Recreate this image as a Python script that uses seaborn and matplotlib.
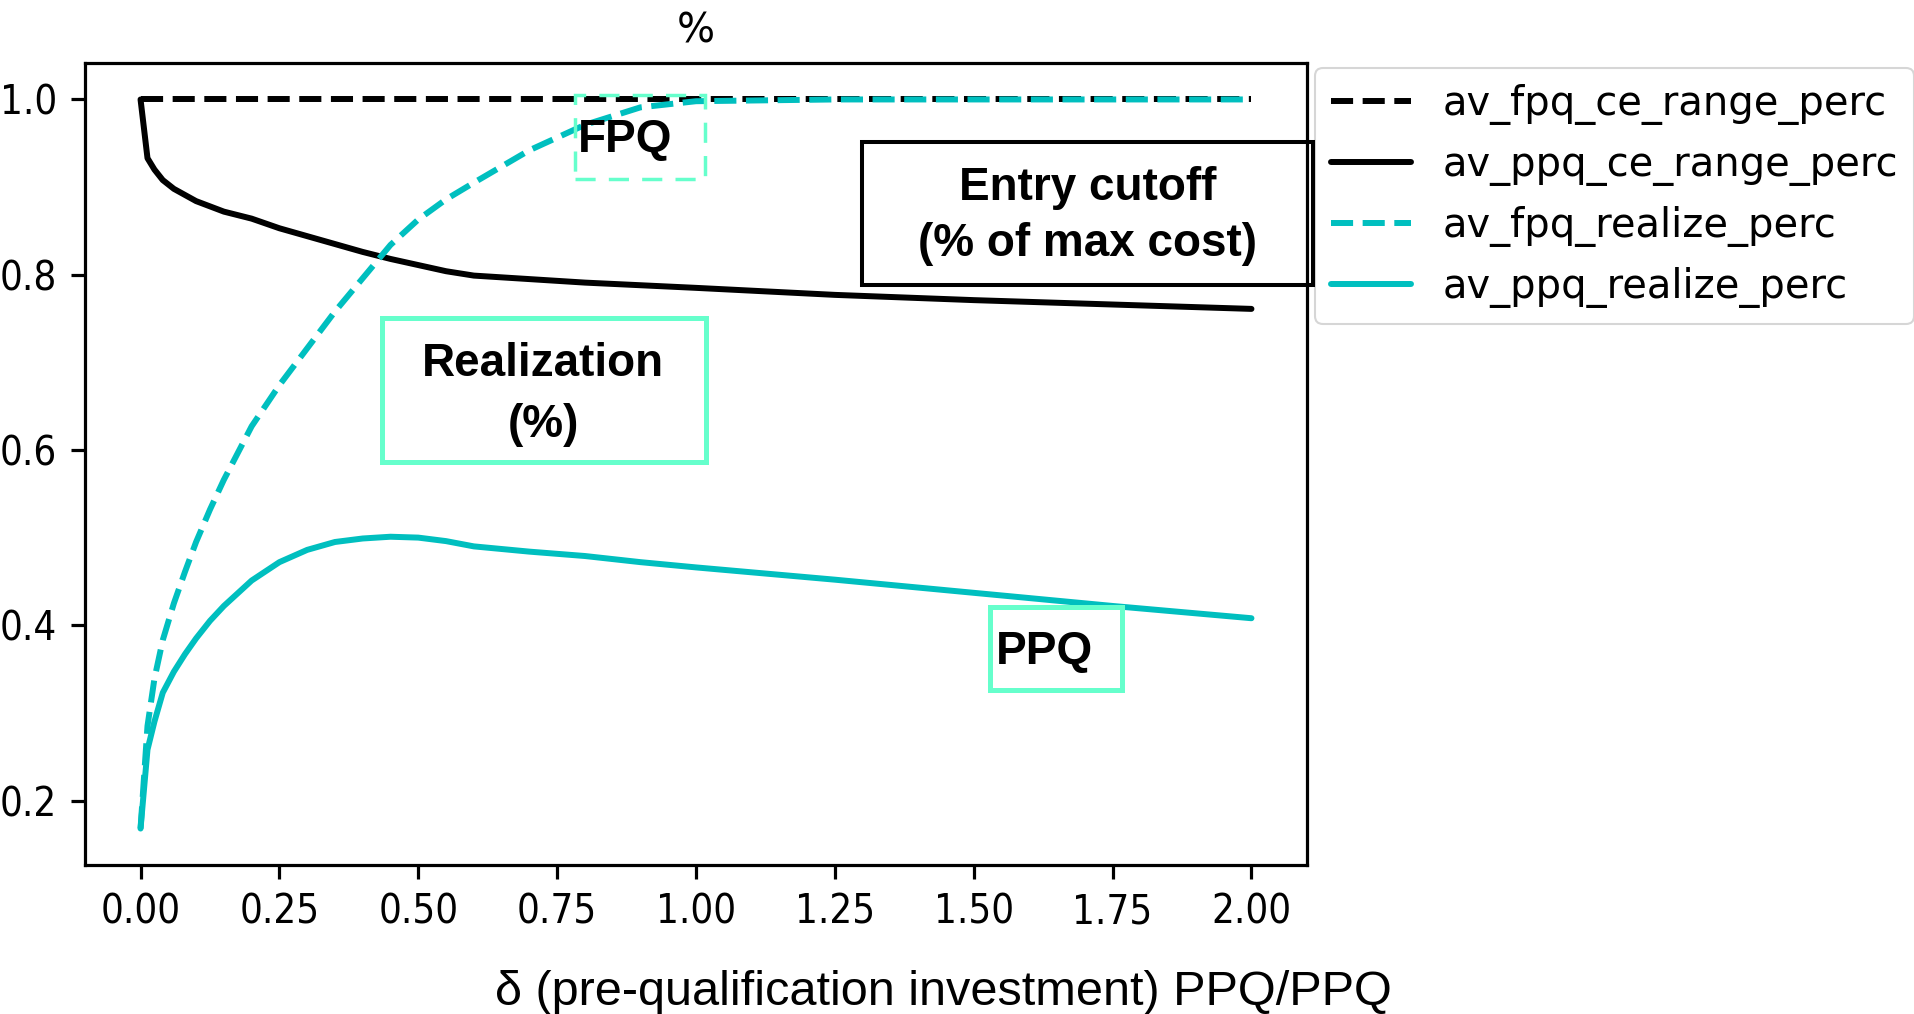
import matplotlib
matplotlib.use("Agg")
import matplotlib.pyplot as plt
from matplotlib.patches import Rectangle
import numpy as np
import pandas as pd
import seaborn as sns

sns.set_style("ticks", {"axes.edgecolor": "black", "xtick.color": "black",
                        "ytick.color": "black", "text.color": "black"})
plt.rcParams['font.family'] = ['DejaVu Sans']

# values
delta = [0, 0.0125, 0.025, 0.04, 0.06, 0.08, 0.1, 0.125, 0.15, 0.2, 0.25, 0.3, 0.35,
         0.4, 0.45, 0.5, 0.55, 0.6, 0.7, 0.8, 0.9, 1.0, 1.25, 1.5, 1.75, 2.0]
av_fpq_ce_range_perc = [1.0] * len(delta)
av_ppq_ce_range_perc = [1.0, 0.933, 0.92, 0.908, 0.898, 0.891, 0.884, 0.878, 0.872, 0.864,
                        0.853, 0.844, 0.835, 0.826, 0.818, 0.811, 0.804, 0.799, 0.795,
                        0.791, 0.788, 0.785, 0.777, 0.771, 0.766, 0.761]
av_fpq_realize_perc = [0.168, 0.285, 0.339, 0.383, 0.425, 0.461, 0.495, 0.532, 0.566, 0.627,
                       0.674, 0.716, 0.758, 0.796, 0.834, 0.863, 0.886, 0.905, 0.942,
                       0.971, 0.991, 0.998, 1.0, 1.0, 1.0, 1.0]
av_ppq_realize_perc = [0.168, 0.258, 0.290, 0.323, 0.347, 0.367, 0.385, 0.405, 0.422, 0.451,
                       0.472, 0.486, 0.495, 0.499, 0.501, 0.500, 0.496, 0.490, 0.484,
                       0.479, 0.472, 0.466, 0.452, 0.437, 0.422, 0.408]

W, H = 1915, 1014
fig = plt.figure(figsize=(W / 100, H / 100), dpi=100)
ax = fig.add_axes([85 / W, 1 - 865 / H, (1307 - 85) / W, (865 - 63) / H])

series = [("av_fpq_ce_range_perc", av_fpq_ce_range_perc, "k", "--"),
          ("av_ppq_ce_range_perc", av_ppq_ce_range_perc, "k", "-"),
          ("av_fpq_realize_perc", av_fpq_realize_perc, "c", "--"),
          ("av_ppq_realize_perc", av_ppq_realize_perc, "c", "-")]
for name, vals, col, ls in series:
    sns.lineplot(x=delta, y=vals, ax=ax, color=col, linestyle=ls, linewidth=4.3,
                 label=name, sort=False)

ax.set_xticks([0, 0.25, 0.5, 0.75, 1.0, 1.25, 1.5, 1.75, 2.0])
ax.set_yticks([0.2, 0.4, 0.6, 0.8, 1.0])
ax.tick_params(labelsize=28.8, length=10, width=2.3, pad=10)
for lbl in ax.get_xticklabels() + ax.get_yticklabels():
    lbl.set_fontstretch('condensed')
for sp in ax.spines.values():
    sp.set_linewidth(2.3)
ax.set_title('%', fontsize=28.8, pad=15)

leg = ax.legend(loc='upper left', bbox_to_anchor=(1.0065, 0.994), borderaxespad=0,
                fontsize=28.8)
leg.get_frame().set_linewidth(1.5)

# overlay boxes and labels (pixel positions)
aqua = '#66FFCC'
def box(x0, y0, x1, y1, **kw):
    fig.add_artist(Rectangle((x0 / W, 1 - y1 / H), (x1 - x0) / W, (y1 - y0) / H,
                             transform=fig.transFigure, fill=False, **kw))

def label(x, y, s, ha='center'):
    fig.text(x / W, 1 - y / H, s, ha=ha, va='baseline', fontsize=33,
             fontweight='bold', family='Liberation Sans')

box(575, 95, 705, 179, edgecolor=aqua, linewidth=2.5, linestyle=(0, (5.8, 3.8)))
label(578, 152, 'FPQ', ha='left')
box(862, 142, 1313, 285, edgecolor='black', linewidth=2.9)
label(1088, 200, 'Entry cutoff')
label(1088, 256, '(% of max cost)')
box(382, 318, 706, 462, edgecolor=aqua, linewidth=3.6)
label(543, 376, 'Realization')
label(543, 437, '(%)')
box(990, 607, 1122, 690, edgecolor=aqua, linewidth=3.6)
label(996, 664, 'PPQ', ha='left')

fig.text(943 / W, 1 - 1005 / H, 'δ (pre-qualification investment) PPQ/PPQ',
         ha='center', va='baseline', fontsize=35, family='Liberation Sans')

fig.savefig('out.png', dpi=100)
